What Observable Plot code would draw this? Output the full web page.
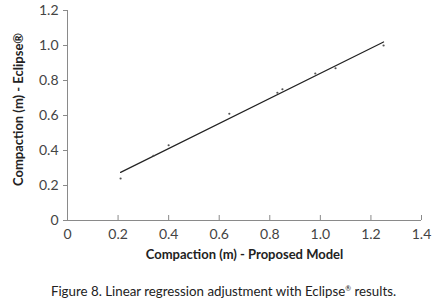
<!DOCTYPE html>
<html>
<head>
<meta charset="utf-8">
<script src="https://cdn.jsdelivr.net/npm/d3@7"></script>
<script src="https://cdn.jsdelivr.net/npm/@observablehq/plot@0.6"></script>
<style>
  body { margin: 0; background: #fff; font-family: Lato, "Open Sans", sans-serif; }
  #chart { width: 447px; }
  .caption { font-family: Lato, sans-serif; font-size: 13.3px; color: #222; text-align: center; margin-top: 15px; }
  .caption sup { font-size: 7px; }
</style>
</head>
<body>
<div id="chart"></div>
<script>
// Data
const proposed = [0.21, 0.34, 0.40, 0.64, 0.83, 0.85, 0.98, 1.06, 1.25];
const eclipse  = [0.24, 0.37, 0.43, 0.61, 0.73, 0.75, 0.84, 0.87, 1.00];
const fitX = [0.21, 1.25];
const fitY = [0.275, 1.02];
const xTicks = [0, 0.2, 0.4, 0.6, 0.8, 1.0, 1.2, 1.4];
const yTicks = [0, 0.2, 0.4, 0.6, 0.8, 1.0, 1.2];
const xTitle = "Compaction (m) - Proposed Model";
const yTitle = "Compaction (m) - Eclipse®";
const captionLabel = "Figure 8.";
const captionText = [" Linear regression adjustment with Eclipse", "®", " results."];

const points = proposed.map((x, i) => ({x, y: eclipse[i]}));
const fit = fitX.map((x, i) => ({x, y: fitY[i]}));
const fmt = d => d === 0 ? "0" : d.toFixed(1);

const plot = Plot.plot({
  width: 447,
  height: 268,
  marginLeft: 67,
  marginRight: 26,
  marginTop: 10,
  marginBottom: 48,
  style: {fontFamily: "Lato, sans-serif", background: "#fff"},
  x: {domain: [0, 1.4]},
  y: {domain: [0, 1.2]},
  marks: [
    Plot.ruleY([0], {stroke: "#8a8a8a", strokeWidth: 1}),
    Plot.ruleX([0], {stroke: "#8a8a8a", strokeWidth: 1}),
    Plot.axisY({ticks: yTicks, tickFormat: fmt, tickSize: 4, tickPadding: 5, stroke: "#8a8a8a", color: "#444", fontSize: 14, label: null}),
    Plot.axisX({ticks: xTicks, tickFormat: fmt, tickSize: -5, tickPadding: 14, stroke: "#8a8a8a", color: "#444", fontSize: 14, label: null}),
    Plot.line(fit, {x: "x", y: "y", stroke: "#222", strokeWidth: 1.2}),
    Plot.dot(points, {x: "x", y: "y", r: 1.1, fill: "#555", stroke: "none"}),
    Plot.text([xTitle], {frameAnchor: "bottom", dy: 38, text: d => d, fontWeight: "bold", fontSize: 13, fill: "#222"}),
    Plot.text([yTitle], {frameAnchor: "left", textAnchor: "middle", dx: -49, dy: -6, rotate: -90, text: d => d, fontWeight: "bold", fontSize: 13, fill: "#222"})
  ]
});
document.getElementById("chart").appendChild(plot);
const cap = document.createElement("div");
cap.className = "caption";
cap.appendChild(document.createTextNode(captionLabel + captionText[0]));
const sup = document.createElement("sup");
sup.textContent = captionText[1];
cap.appendChild(sup);
cap.appendChild(document.createTextNode(captionText[2]));
document.getElementById("chart").appendChild(cap);
</script>
</body>
</html>
